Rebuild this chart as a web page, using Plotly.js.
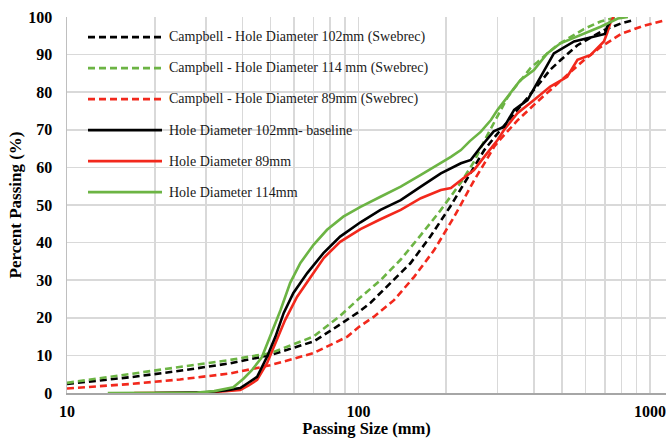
<!DOCTYPE html>
<html>
<head>
<meta charset="utf-8">
<script src="https://cdn.plot.ly/plotly-3.0.1.min.js"></script>
<style>html,body{margin:0;padding:0;background:#fff;}#chart{width:666px;height:438px;}</style>
</head>
<body>
<div id="chart"></div>
<script>
// ---- Data ----
const seriesNames = [
  "Campbell - Hole Diameter 102mm (Swebrec)",
  "Campbell - Hole Diameter 114 mm (Swebrec)",
  "Campbell - Hole Diameter 89mm (Swebrec)",
  "Hole Diameter 102mm- baseline",
  "Hole Diameter 89mm",
  "Hole Diameter 114mm"
];

const swe102X = [10, 16.5, 24.4, 36.3, 49.9, 70.1, 80, 94, 100, 110, 128.7, 150.7, 176.4, 206.5, 241.7, 270, 300, 324, 380, 422, 455, 493, 564, 695, 796, 880];
const swe102Y = [2.4, 4.2, 5.9, 7.9, 10.1, 13.7, 16.5, 20.0, 21.5, 24.0, 29.2, 34.5, 41.6, 49.6, 58.4, 64.6, 69.0, 72.0, 78.5, 82.8, 86.0, 88.5, 92.5, 96.5, 98.3, 99.2];

const swe114X = [10, 16.5, 24.4, 36.3, 49.9, 70.1, 86.5, 100, 119, 139.6, 163.6, 191.7, 224.6, 249, 270, 292, 324, 342, 390, 411, 480, 593, 677, 776];
const swe114Y = [2.7, 5.1, 7.0, 8.8, 10.6, 15.0, 20.5, 25.0, 30.0, 35.5, 42.0, 48.7, 56.0, 61.5, 67.0, 72.0, 78.5, 81.0, 86.5, 88.0, 92.5, 96.8, 98.8, 100];

const swe89X = [10, 16.5, 24.4, 36.3, 49.9, 70.1, 91.6, 100, 113, 132.4, 155.2, 181.8, 213, 249.5, 270, 292, 307, 351, 411, 455, 493, 564, 593, 677, 796, 937, 1135];
const swe89Y = [1.2, 2.4, 3.6, 5.2, 7.4, 10.6, 15.0, 17.5, 20.3, 24.7, 30.9, 38.0, 46.9, 56.6, 61.0, 65.5, 67.5, 72.5, 77.5, 80.5, 83.0, 87.0, 88.5, 92.0, 95.5, 97.5, 99.2];

const base102X = [20, 30, 35, 39.3, 42, 44.9, 48.6, 51.9, 55.4, 59.8, 66.7, 75.8, 86.5, 101.6, 119, 139.6, 163.6, 191.7, 224.6, 243, 263, 291, 316, 342, 380, 422, 468, 549, 609, 677, 700, 713, 731];
const base102Y = [0, 0.2, 0.7, 1.3, 2.8, 4.3, 9.7, 15.0, 21.3, 26.6, 31.9, 37.2, 41.6, 45.4, 48.7, 51.3, 54.9, 58.4, 61.1, 62.0, 65.5, 69.6, 70.8, 75.3, 77.9, 84.1, 90.3, 93.5, 94.3, 95.2, 95.5, 97.4, 98.8];

const d89X = [17, 30, 35, 39.3, 42, 44.9, 48.6, 51.9, 56, 61.6, 68.5, 76, 86.5, 101.6, 119, 139.6, 163.6, 191.7, 207.5, 224.6, 249, 270, 300, 316, 351, 400, 455, 520, 564, 626, 695, 713, 731, 750];
const d89Y = [0, 0.1, 0.5, 0.8, 2.0, 3.5, 8.0, 13.3, 19.4, 25.6, 30.9, 35.9, 40.2, 43.6, 46.2, 48.7, 51.8, 54.0, 54.5, 56.6, 59.3, 62.8, 67.3, 70.0, 74.4, 77.9, 81.5, 84.1, 88.6, 89.9, 93.5, 95.7, 98.4, 100];

const d114X = [13.8, 28, 32, 35.5, 37.2, 40.3, 43, 46.6, 49.8, 54, 58.3, 63.2, 70.1, 78, 88.7, 101.6, 119, 139.6, 163.6, 191.7, 207.5, 224.6, 241, 263, 284.7, 300, 324, 359, 400, 444, 493, 578, 677, 776, 840];
const d114Y = [0, 0.1, 0.5, 1.3, 1.5, 3.8, 6.0, 9.5, 15.0, 22.0, 29.3, 34.6, 39.4, 43.4, 46.9, 49.5, 52.2, 54.9, 58.0, 61.1, 62.8, 64.6, 67.0, 69.5, 72.6, 75.3, 78.8, 83.2, 85.9, 90.3, 93.0, 95.2, 97.4, 99.6, 100];

const xTickVals = [10, 20, 30, 40, 50, 60, 70, 80, 90, 100, 200, 300, 400, 500, 600, 700, 800, 900, 1000];
const xTickText = ["10", "", "", "", "", "", "", "", "", "100", "", "", "", "", "", "", "", "", "1000"];
const yTickVals = [0, 10, 20, 30, 40, 50, 60, 70, 80, 90, 100];

// ---- Styles ----
const FONT = "Liberation Serif, Times New Roman, serif";
const BLACK = "#000000", GREEN = "#6cb444", RED = "#f2281c";
const seriesX = [swe102X, swe114X, swe89X, base102X, d89X, d114X];
const seriesY = [swe102Y, swe114Y, swe89Y, base102Y, d89Y, d114Y];
const colors = [BLACK, GREEN, RED, BLACK, RED, GREEN];
const dashes = ["7px,4px", "7px,4px", "7px,4px", "solid", "solid", "solid"];
const order = [0, 1, 2, 4, 3, 5]; // draw order

const traces = order.map(i => ({
  type: "scatter", mode: "lines",
  x: seriesX[i], y: seriesY[i], name: seriesNames[i],
  line: {color: colors[i], width: 2.6, dash: dashes[i]},
  hoverinfo: "skip", showlegend: false
}));

// Custom legend (long sample lines as in the reference)
const shapes = [], annotations = [];
const legTop = 0.9465, legStep = 31 / 376;
seriesNames.forEach((nm, i) => {
  const yy = legTop - i * legStep;
  shapes.push({type: "line", xref: "paper", yref: "paper",
    x0: 21 / 599, x1: 95 / 599, y0: yy, y1: yy,
    line: {color: colors[i], width: 2.6, dash: dashes[i]}});
  annotations.push({xref: "paper", yref: "paper", x: 100 / 599, y: yy,
    xanchor: "left", yanchor: "middle", showarrow: false, text: nm,
    font: {family: FONT, size: 14, color: "#1a1a1a"}});
});

const layout = {
  width: 666, height: 438,
  margin: {l: 67, r: 0, t: 17, b: 45},
  paper_bgcolor: "#ffffff", plot_bgcolor: "#ffffff",
  showlegend: false,
  xaxis: {
    type: "log", range: [1, 3.055],
    tickvals: xTickVals, ticktext: xTickText,
    showgrid: true, gridcolor: "#d9d9d9", gridwidth: 1.5,
    showline: true, linecolor: "#a6a6a6", linewidth: 1.5,
    ticks: "", ticklabelstandoff: 3, zeroline: false,
    tickfont: {family: FONT, size: 16, color: "#000", weight: "bold"},
    title: {text: "<b>Passing Size (mm)</b>", standoff: 0,
      font: {family: FONT, size: 16.5, color: "#000"}}
  },
  yaxis: {
    range: [0, 100], tickvals: yTickVals,
    showgrid: true, gridcolor: "#d9d9d9", gridwidth: 1.5,
    showline: true, linecolor: "#bfbfbf", linewidth: 1.5,
    ticks: "", ticklabelstandoff: 10, zeroline: false,
    tickfont: {family: FONT, size: 16, color: "#000", weight: "bold"},
    title: {text: "<b>Percent Passing (%)</b>", standoff: 2,
      font: {family: FONT, size: 17, color: "#000"}}
  },
  shapes: shapes, annotations: annotations
};

Plotly.newPlot("chart", traces, layout, {displayModeBar: false, staticPlot: true});
</script>
</body>
</html>
